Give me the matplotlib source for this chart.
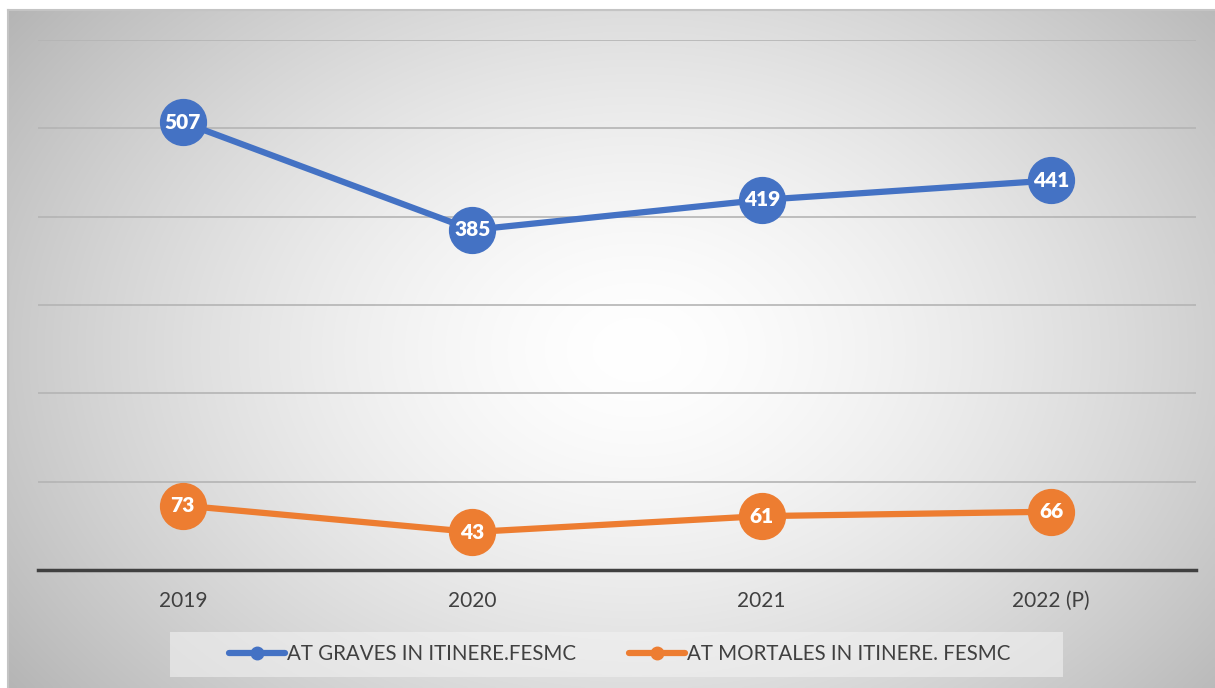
import numpy as np
import matplotlib.pyplot as plt
from matplotlib.patches import Rectangle

years = ['2019', '2020', '2021', '2022 (P)']
graves = [507, 385, 419, 441]
mortales = [73, 43, 61, 66]
series_names = ['AT GRAVES IN ITINERE.FESMC', 'AT MORTALES IN ITINERE. FESMC']
colors = ['#4472C4', '#ED7D31']

plt.rcParams['font.family'] = ['Lato', 'DejaVu Sans']

fig = plt.figure(figsize=(12.15, 6.88), dpi=100)

# radial gradient background
bg = fig.add_axes([8 / 1215, 0, 1 - 8 / 1215, 1 - 10 / 688], zorder=0)
h, w = 300, 540
yy, xx = np.mgrid[0:h, 0:w]
cx, cy = w * 0.52, h * 0.50
r = np.sqrt(((xx - cx) / (w * 0.60)) ** 2 + ((yy - cy) / (h * 0.78)) ** 2)
val = 1 - 0.26 * np.clip(r, 0, 1.2) ** 1.5
img = np.dstack([val, val, val])
bg.imshow(img, aspect='auto', extent=[0, 1, 0, 1], interpolation='bilinear')
bg.set_xlim(0, 1)
bg.set_ylim(0, 1)
bg.axis('off')
fig.add_artist(plt.Line2D([8 / 1215, 1], [1 - 10 / 688] * 2, color='#c4c4c4', lw=1.5))
fig.add_artist(plt.Line2D([8 / 1215] * 2, [0, 1 - 10 / 688], color='#c4c4c4', lw=1.5))

ax = fig.add_axes([38 / 1215, (688 - 570) / 688, 1158 / 1215, 530 / 688], zorder=1)
ax.patch.set_alpha(0)
x = np.arange(len(years))
ax.set_xlim(-0.5, len(years) - 0.5)
ax.set_ylim(0, 600)
ax.set_yticks(range(100, 601, 100))
ax.yaxis.grid(True, color='#b4b4b4', lw=1.2)
ax.tick_params(axis='y', left=False, labelleft=False)
ax.set_xticks(x)
ax.set_xticklabels(years, fontsize=15, color='#404040')
ax.tick_params(axis='x', length=0, pad=15)
for s in ['top', 'right', 'left']:
    ax.spines[s].set_visible(False)
ax.spines['bottom'].set_color('#404040')
ax.spines['bottom'].set_linewidth(2.5)
ax.set_axisbelow(True)

handles = []
for vals, name, c in zip([graves, mortales], series_names, colors):
    ax.plot(x, vals, color=c, lw=4.5, marker='o', markersize=33, solid_capstyle='round', zorder=3)
    hl, = plt.plot([], [], color=c, lw=4.5, marker='o', markersize=9, solid_capstyle='round')
    handles.append(hl)
    for xi, v in zip(x, vals):
        ax.text(xi, v, str(v), ha='center', va='center', color='white',
                fontsize=15, fontweight='heavy', zorder=4)

fig.add_artist(Rectangle((170 / 1215, (688 - 677) / 688), 893 / 1215, 45 / 688,
                         transform=fig.transFigure, facecolor='#f2f2f2', alpha=0.6,
                         edgecolor='none', zorder=1))
fig.legend(handles, series_names, loc='center', bbox_to_anchor=(0.510, (688 - 654) / 688),
           ncol=2, frameon=False, fontsize=14.8, handlelength=2.7, handletextpad=0.1,
           columnspacing=2.6, labelcolor='#404040')

fig.savefig('out.png', dpi=100)
